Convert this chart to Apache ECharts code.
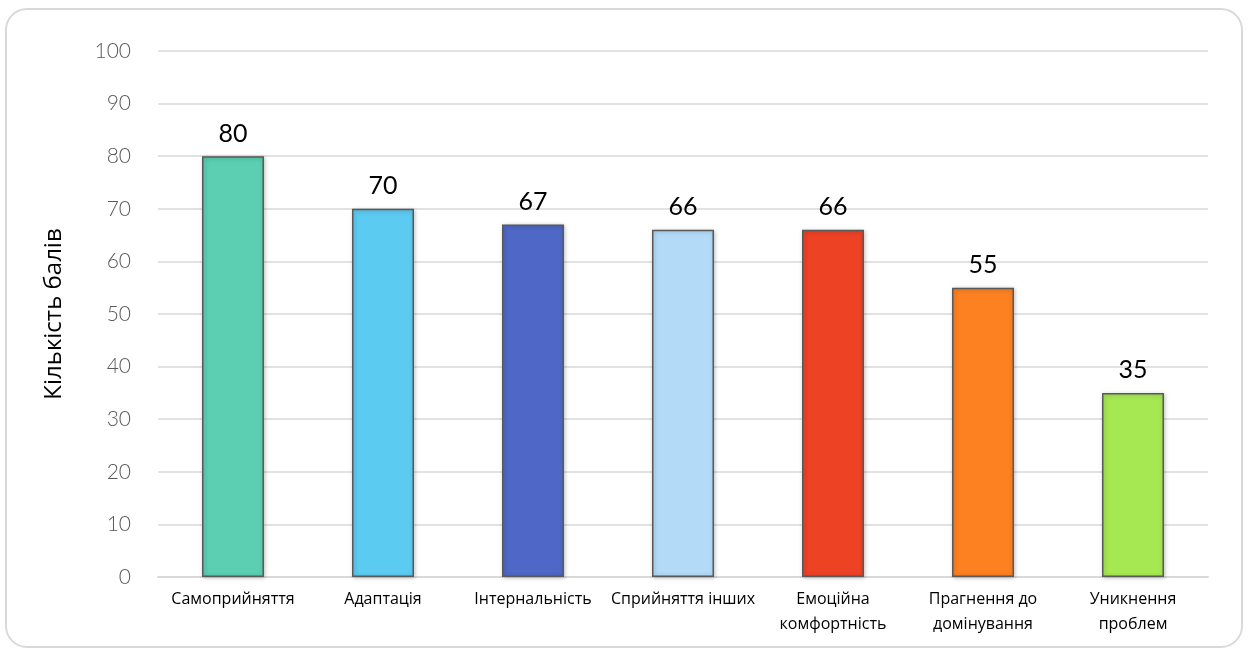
<!DOCTYPE html>
<html>
<head>
<meta charset="utf-8">
<script src="https://cdn.jsdelivr.net/npm/echarts@6/dist/echarts.min.js"></script>
<style>
  html, body { margin: 0; padding: 0; background: #fff; }
  /* рамка навколо діаграми */
  .frame {
    position: absolute;
    left: 5px; top: 8px;
    width: 1238px; height: 640px;
    border: 2px solid #d9d9d9;
    border-radius: 22px;
    box-sizing: border-box;
  }
  #chart { width: 1251px; height: 656px; }
</style>
</head>
<body>
<div class="frame"></div>
<div id="chart"></div>
<script>
// дані
const categories = [
  "Самоприйняття",
  "Адаптація",
  "Інтернальність",
  "Сприйняття інших",
  "Емоційна\nкомфортність",
  "Прагнення до\nдомінування",
  "Уникнення\nпроблем"
];
const values = [80, 70, 67, 66, 66, 55, 35];
const barColors = ["#5ccfb2", "#5ccbf2", "#4f68c7", "#b3dbf8", "#ee4225", "#fd8121", "#a6e851"];
const yTicks = [0, 10, 20, 30, 40, 50, 60, 70, 80, 90, 100];

const myChart = echarts.init(document.getElementById("chart"));
myChart.setOption({
  animation: false,
  grid: {
    left: 158,
    right: 43,
    top: 51,
    bottom: 79
  },
  xAxis: {
    type: "category",
    data: categories,
    axisTick: { show: false },
    axisLine: { lineStyle: { color: "#d9d9d9", width: 2 } },
    axisLabel: {
      color: "#000",
      fontFamily: "Open Sans",
      fontSize: 16,
      lineHeight: 25,
      margin: 10,
      interval: 0
    }
  },
  yAxis: {
    type: "value",
    min: yTicks[0],
    max: yTicks[yTicks.length - 1],
    interval: 10,
    name: "Кількість балів",
    nameLocation: "middle",
    nameGap: 92,
    nameTextStyle: { color: "#000", fontFamily: "Open Sans", fontSize: 24 },
    axisLine: { show: false },
    axisTick: { show: false },
    splitLine: { lineStyle: { color: "#d9d9d9", width: 1.5 } },
    axisLabel: {
      color: "#595959",
      fontFamily: "Lato",
      fontSize: 21,
      fontWeight: 300,
      margin: 27
    }
  },
  series: [
    {
      type: "bar",
      data: values.map((v, i) => ({
        value: v,
        itemStyle: { color: barColors[i] }
      })),
      barWidth: 62,
      itemStyle: {
        borderColor: "#595959",
        borderWidth: 1.5,
        shadowColor: "rgba(0,0,0,0.25)",
        shadowBlur: 4,
        shadowOffsetX: 1,
        shadowOffsetY: 1
      },
      label: {
        show: true,
        position: "top",
        distance: 10,
        color: "#000",
        fontFamily: "Lato",
        fontSize: 25
      }
    }
  ]
});
</script>
</body>
</html>
